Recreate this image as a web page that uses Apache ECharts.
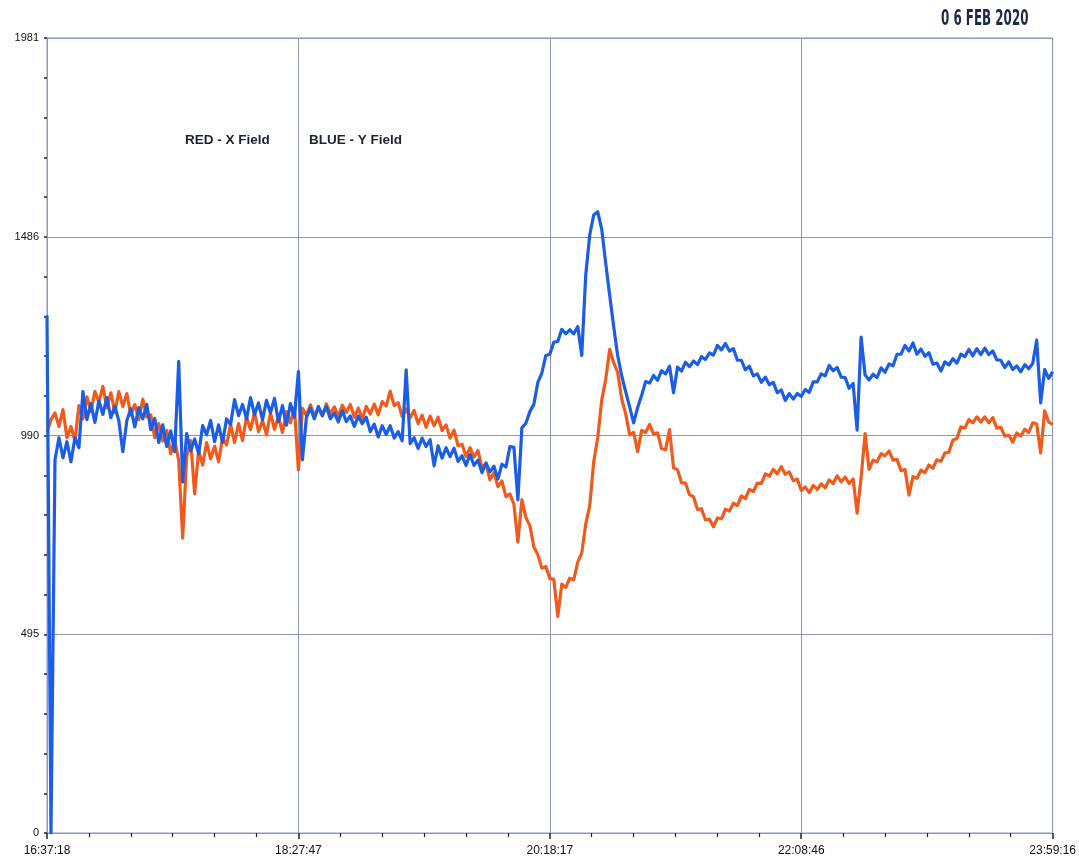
<!DOCTYPE html>
<html>
<head>
<meta charset="utf-8">
<script src="https://cdn.jsdelivr.net/npm/echarts@6/dist/echarts.min.js"></script>
<style>
html,body{margin:0;padding:0;background:#fff;}
#chart{width:1079px;height:864px;}
</style>
</head>
<body>
<div id="chart"></div>
<script>
// Time axis: 16:37:18 -> 23:59:16 (26518 s), samples equally spaced
const totalSeconds = 26518;
const sampleCount = 253;
const xTickLabels = ['16:37:18', '18:27:47', '20:18:17', '22:08:46', '23:59:16'];
const yTickLabels = ['0', '495', '990', '1486', '1981'];
const yMax = 1981;

// BLUE - Y Field
const blueY = [
1290,0,930,985,935,975,925,985,960,1100,
1030,1070,1023,1077,1043,1085,1035,1063,1027,950,
1027,1057,1012,1060,1032,1068,1005,1033,973,1017,
963,1002,950,1175,875,995,952,982,945,1015,
992,1028,975,1017,973,1032,1018,1080,1040,1068,
1032,1085,1042,1072,1030,1078,1047,1083,1025,1065,
1016,1070,1036,1150,930,1035,1059,1032,1063,1041,
1063,1032,1047,1024,1052,1025,1039,1013,1039,1020,
1036,1000,1019,987,1015,993,1015,984,1000,977,
1154,970,985,958,984,963,980,915,965,934,
960,938,959,926,940,916,943,916,929,898,
922,900,914,882,919,912,963,961,830,1010,
1021,1050,1068,1123,1146,1190,1193,1223,1225,1255,
1244,1254,1244,1262,1190,1390,1490,1540,1548,1505,
1420,1340,1262,1190,1140,1100,1062,1022,1060,1090,
1125,1121,1140,1128,1152,1144,1163,1097,1161,1151,
1173,1162,1176,1167,1187,1180,1196,1191,1215,1204,
1220,1201,1207,1178,1178,1154,1163,1139,1144,1123,
1136,1117,1123,1097,1104,1078,1095,1081,1095,1088,
1105,1098,1124,1124,1144,1139,1165,1152,1160,1136,
1135,1108,1120,1004,1236,1141,1129,1143,1135,1159,
1148,1169,1164,1193,1193,1215,1201,1221,1193,1206,
1188,1197,1168,1171,1151,1174,1166,1182,1171,1193,
1187,1205,1189,1207,1192,1208,1192,1201,1179,1178,
1160,1174,1155,1164,1149,1167,1157,1170,1228,1072,
1155,1133,1149
];

// RED - X Field
const redX = [
1000,1030,1047,1013,1055,985,1013,977,1065,1032,
1087,1050,1100,1074,1113,1060,1097,1048,1100,1063,
1095,1042,1068,1030,1081,1037,1042,985,1020,977,
1003,945,980,928,735,938,978,845,953,917,
973,932,964,925,985,967,1018,973,1020,978,
1037,1005,1048,1000,1028,992,1047,1006,1038,998,
1050,1022,1060,905,1058,1041,1067,1040,1059,1039,
1069,1045,1062,1038,1066,1048,1068,1036,1059,1032,
1063,1044,1069,1042,1075,1064,1101,1065,1072,1038,
1057,1035,1053,1020,1041,1011,1039,1015,1036,1003,
1017,984,1004,965,969,938,960,937,953,910,
921,880,898,863,877,838,845,819,725,830,
786,766,713,693,660,664,634,632,540,620,
612,635,631,675,698,770,815,925,985,1078,
1130,1205,1172,1148,1082,1045,992,998,950,1003,
998,1018,994,997,958,955,1005,910,905,873,
872,843,838,806,808,780,782,763,785,783,
807,802,822,816,840,833,856,851,872,871,
895,889,906,895,913,894,900,878,882,854,
862,848,866,856,870,860,880,871,890,875,
887,871,882,797,885,995,906,929,925,945,
940,952,929,931,903,906,842,888,884,904,
898,917,909,930,926,947,949,979,983,1012,
1009,1030,1022,1037,1024,1037,1022,1035,1009,1011,
989,991,974,997,989,1006,998,1022,1019,947,
1052,1024,1018
];

const xInterval = totalSeconds / (xTickLabels.length - 1);
const yInterval = yMax / (yTickLabels.length - 1);
const step = totalSeconds / (sampleCount - 1);
const toPairs = arr => arr.map((v, i) => [i * step, v]);

const gridColor = '#8e98b8';
const chart = echarts.init(document.getElementById('chart'), null, {renderer: 'canvas'});
chart.setOption({
  backgroundColor: '#ffffff',
  animation: false,
  grid: {left: 47, right: 24, top: 38, bottom: 31, show: true, borderColor: gridColor, borderWidth: 1},
  xAxis: {
    type: 'value', min: 0, max: totalSeconds, interval: xInterval,
    axisLine: {show: true, lineStyle: {color: gridColor}},
    axisTick: {show: true, length: 6, lineStyle: {color: '#222', width: 1.5}},
    minorTick: {show: true, splitNumber: 6, length: 4, lineStyle: {color: '#222', width: 1.2}},
    splitLine: {show: true, lineStyle: {color: gridColor, width: 1}},
    axisLabel: {
      margin: 12, color: '#111', fontSize: 12, fontFamily: 'Liberation Sans, Arial, sans-serif',
      formatter: v => xTickLabels[Math.round(v / xInterval)] || ''
    }
  },
  yAxis: {
    type: 'value', min: 0, max: yMax, interval: yInterval,
    axisLine: {show: true, lineStyle: {color: gridColor}},
    axisTick: {show: true, length: 3, lineStyle: {color: '#222', width: 1.5}},
    minorTick: {show: true, splitNumber: 5, length: 3, lineStyle: {color: '#222', width: 1.5}},
    splitLine: {show: true, lineStyle: {color: gridColor, width: 1}},
    axisLabel: {
      margin: 8, color: '#111', fontSize: 11, fontFamily: 'Liberation Sans, Arial, sans-serif',
      formatter: v => yTickLabels[Math.round(v / yInterval)] || ''
    }
  },
  series: [
    {name: 'RED - X Field', type: 'line', data: toPairs(redX), showSymbol: false, symbol: 'none',
     lineStyle: {color: '#f25a1c', width: 3.2, join: 'round'}, z: 2},
    {name: 'BLUE - Y Field', type: 'line', data: toPairs(blueY), showSymbol: false, symbol: 'none',
     lineStyle: {color: '#1c5de6', width: 3.2, join: 'round'}, z: 3}
  ],
  graphic: [
    {type: 'text', left: 185, top: 133, style: {text: 'RED - X Field', fill: '#1b2233', font: 'bold 13.5px "Liberation Sans", Arial, sans-serif'}},
    {type: 'text', left: 309, top: 133, style: {text: 'BLUE - Y Field', fill: '#1b2233', font: 'bold 13.5px "Liberation Sans", Arial, sans-serif'}},
    {type: 'text', x: 941, y: 9, scaleX: 0.63, style: {text: '0 6 FEB 2020', fill: '#1c2a4a', font: 'bold 21px "DejaVu Sans Condensed", "Liberation Sans Narrow", sans-serif'}}
  ]
});
</script>
</body>
</html>
